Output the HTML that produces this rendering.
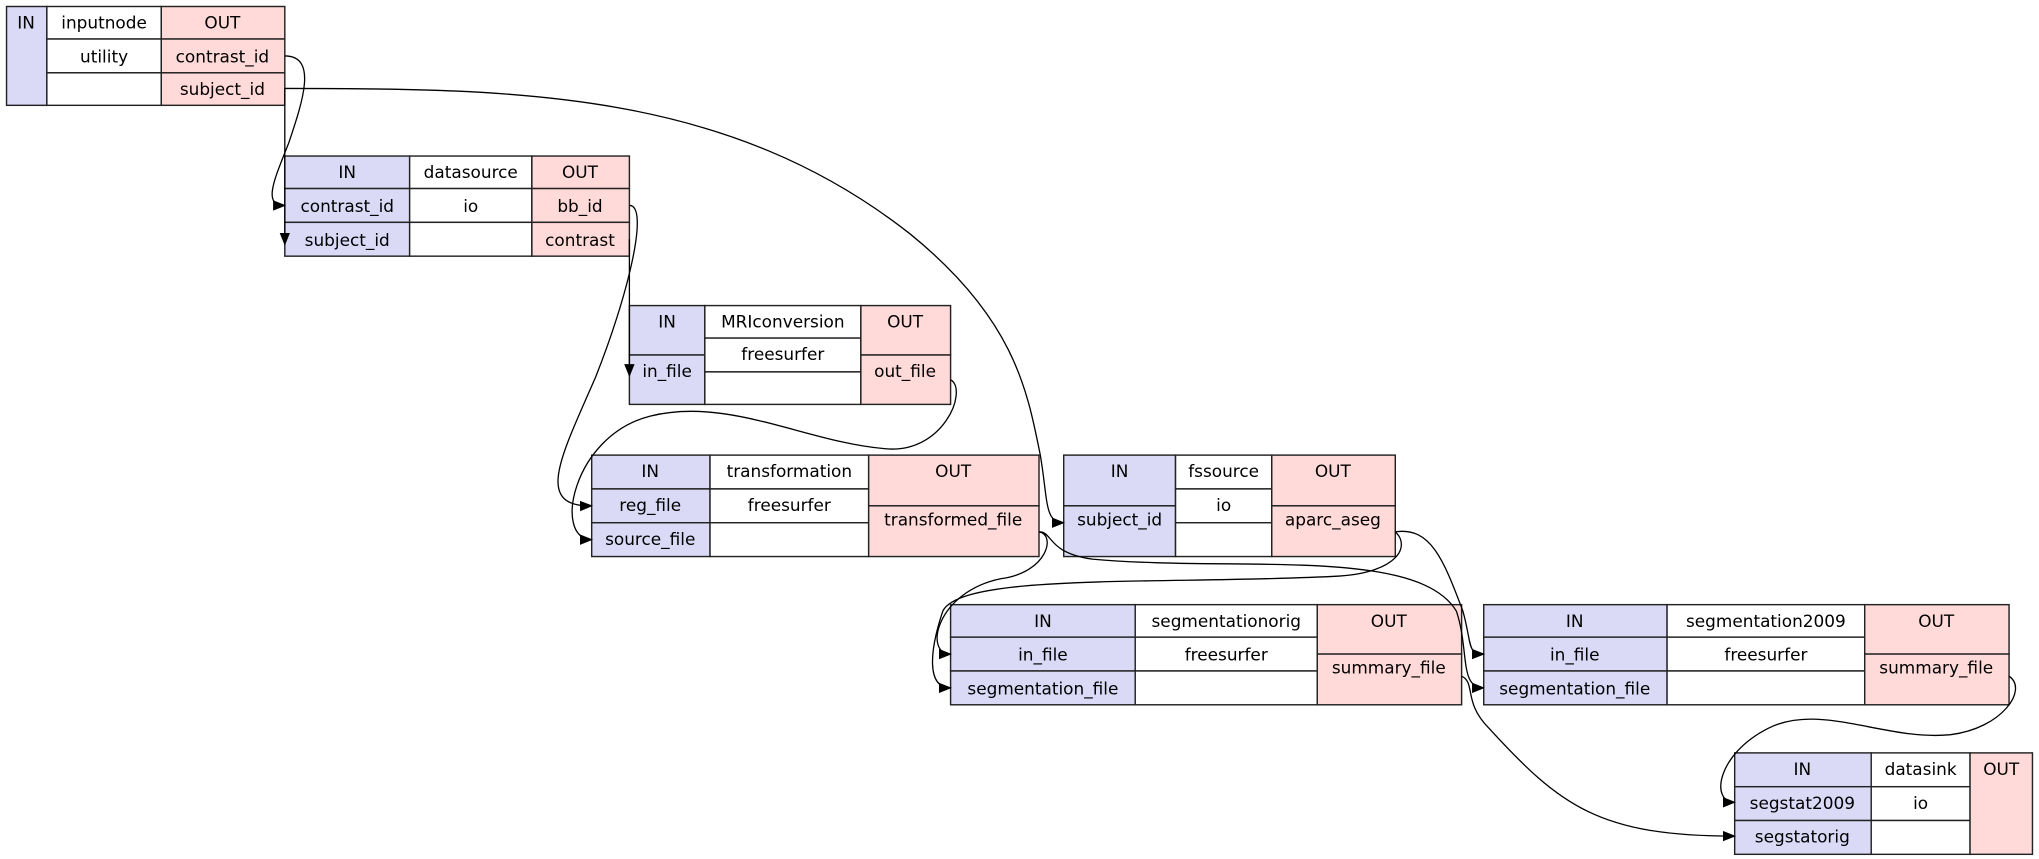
<!DOCTYPE html>
<html><head><meta charset="utf-8"><style>
html,body{margin:0;padding:0;background:#fff;}
svg{display:block;}
text{font-family:"DejaVu Sans","Liberation Sans",sans-serif;font-size:13px;fill:#000;text-anchor:middle;}
.b{fill:#dadaf7;stroke:#222;stroke-width:1.1;}
.p{fill:#ffdad8;stroke:#222;stroke-width:1.1;}
.w{fill:#fff;stroke:#222;stroke-width:1.1;}
.e{fill:none;stroke:#000;stroke-width:1;}
</style></head><body>
<svg width="2039" height="859" viewBox="0 0 1568 660.6" xmlns="http://www.w3.org/2000/svg">
<defs><marker id="a" markerWidth="10" markerHeight="8" refX="9" refY="4" orient="auto" markerUnits="userSpaceOnUse"><path d="M0,0 L10,4 L0,8 z" fill="#000"/></marker></defs>

<!-- inputnode -->
<rect class="b" x="5" y="5" width="31" height="76"/>
<rect class="w" x="36" y="5" width="88" height="25"/><rect class="w" x="36" y="30" width="88" height="26"/><rect class="w" x="36" y="56" width="88" height="25"/>
<rect class="p" x="124" y="5" width="95" height="25"/><rect class="p" x="124" y="30" width="95" height="26"/><rect class="p" x="124" y="56" width="95" height="25"/>
<text x="20" y="22">IN</text><text x="80" y="22">inputnode</text><text x="171" y="22">OUT</text>
<text x="80" y="48">utility</text><text x="171" y="48">contrast_id</text><text x="171" y="73">subject_id</text>

<!-- datasource -->
<rect class="b" x="219" y="120" width="96" height="25"/><rect class="b" x="219" y="145" width="96" height="26"/><rect class="b" x="219" y="171" width="96" height="26"/>
<rect class="w" x="315" y="120" width="94" height="25"/><rect class="w" x="315" y="145" width="94" height="26"/><rect class="w" x="315" y="171" width="94" height="26"/>
<rect class="p" x="409" y="120" width="75" height="25"/><rect class="p" x="409" y="145" width="75" height="26"/><rect class="p" x="409" y="171" width="75" height="26"/>
<text x="267" y="137">IN</text><text x="362" y="137">datasource</text><text x="446" y="137">OUT</text>
<text x="267" y="163">contrast_id</text><text x="362" y="163">io</text><text x="446" y="163">bb_id</text>
<text x="267" y="189">subject_id</text><text x="446" y="189">contrast</text>

<!-- MRIconversion -->
<rect class="b" x="484" y="235" width="58" height="38"/><rect class="b" x="484" y="273" width="58" height="38"/>
<rect class="w" x="542" y="235" width="120" height="25"/><rect class="w" x="542" y="260" width="120" height="26"/><rect class="w" x="542" y="286" width="120" height="25"/>
<rect class="p" x="662" y="235" width="69" height="38"/><rect class="p" x="662" y="273" width="69" height="38"/>
<text x="513" y="252">IN</text><text x="602" y="252">MRIconversion</text><text x="696" y="252">OUT</text>
<text x="513" y="290">in_file</text><text x="602" y="277">freesurfer</text><text x="696" y="290">out_file</text>

<!-- transformation -->
<rect class="b" x="455" y="350" width="91" height="26"/><rect class="b" x="455" y="376" width="91" height="26"/><rect class="b" x="455" y="402" width="91" height="26"/>
<rect class="w" x="546" y="350" width="122" height="26"/><rect class="w" x="546" y="376" width="122" height="26"/><rect class="w" x="546" y="402" width="122" height="26"/>
<rect class="p" x="668" y="350" width="131" height="39"/><rect class="p" x="668" y="389" width="131" height="39"/>
<text x="500" y="367">IN</text><text x="607" y="367">transformation</text><text x="733" y="367">OUT</text>
<text x="500" y="393">reg_file</text><text x="607" y="393">freesurfer</text><text x="733" y="404">transformed_file</text>
<text x="500" y="419">source_file</text>

<!-- fssource -->
<rect class="b" x="818" y="350" width="86" height="39"/><rect class="b" x="818" y="389" width="86" height="39"/>
<rect class="w" x="904" y="350" width="74" height="26"/><rect class="w" x="904" y="376" width="74" height="26"/><rect class="w" x="904" y="402" width="74" height="26"/>
<rect class="p" x="978" y="350" width="95" height="39"/><rect class="p" x="978" y="389" width="95" height="39"/>
<text x="861" y="367">IN</text><text x="941" y="367">fssource</text><text x="1025" y="367">OUT</text>
<text x="861" y="404">subject_id</text><text x="941" y="393">io</text><text x="1025" y="404">aparc_aseg</text>

<!-- segmentationorig -->
<rect class="b" x="731" y="465" width="142" height="25"/><rect class="b" x="731" y="490" width="142" height="26"/><rect class="b" x="731" y="516" width="142" height="26"/>
<rect class="w" x="873" y="465" width="140" height="25"/><rect class="w" x="873" y="490" width="140" height="26"/><rect class="w" x="873" y="516" width="140" height="26"/>
<rect class="p" x="1013" y="465" width="111" height="38"/><rect class="p" x="1013" y="503" width="111" height="39"/>
<text x="802" y="482">IN</text><text x="943" y="482">segmentationorig</text><text x="1068" y="482">OUT</text>
<text x="802" y="508">in_file</text><text x="943" y="508">freesurfer</text><text x="1068" y="518">summary_file</text>
<text x="802" y="534">segmentation_file</text>

<!-- segmentation2009 -->
<rect class="b" x="1141" y="465" width="141" height="25"/><rect class="b" x="1141" y="490" width="141" height="26"/><rect class="b" x="1141" y="516" width="141" height="26"/>
<rect class="w" x="1282" y="465" width="152" height="25"/><rect class="w" x="1282" y="490" width="152" height="26"/><rect class="w" x="1282" y="516" width="152" height="26"/>
<rect class="p" x="1434" y="465" width="111" height="38"/><rect class="p" x="1434" y="503" width="111" height="39"/>
<text x="1211" y="482">IN</text><text x="1358" y="482">segmentation2009</text><text x="1489" y="482">OUT</text>
<text x="1211" y="508">in_file</text><text x="1358" y="508">freesurfer</text><text x="1489" y="518">summary_file</text>
<text x="1211" y="534">segmentation_file</text>

<!-- datasink -->
<rect class="b" x="1334" y="579" width="105" height="26"/><rect class="b" x="1334" y="605" width="105" height="26"/><rect class="b" x="1334" y="631" width="105" height="26"/>
<rect class="w" x="1439" y="579" width="76" height="26"/><rect class="w" x="1439" y="605" width="76" height="26"/><rect class="w" x="1439" y="631" width="76" height="26"/>
<rect class="p" x="1515" y="579" width="48" height="78"/>
<text x="1386" y="596">IN</text><text x="1477" y="596">datasink</text><text x="1539" y="596">OUT</text>
<text x="1386" y="622">segstat2009</text><text x="1477" y="622">io</text>
<text x="1386" y="648">segstatorig</text>

<!-- edges -->
<path class="e" marker-end="url(#a)" d="M219,43 C245,43 232,80 222,110 C210,140 202,158 219,158"/>
<path class="e" marker-end="url(#a)" d="M219,68 L219,188"/>
<path class="e" marker-end="url(#a)" d="M219,68 C400,68 560,70 700,180 C780,245 790,300 800,350 C806,385 803,402 818,402"/>
<path class="e" marker-end="url(#a)" d="M484,158 C500,158 482,230 458,290 C432,350 410,390 455,389"/>
<path class="e" marker-end="url(#a)" d="M484,184 L484,289"/>
<path class="e" marker-end="url(#a)" d="M731,292 C745,300 725,350 680,345 C620,340 560,305 500,320 C440,335 425,415 455,415"/>
<path class="e" marker-end="url(#a)" d="M799,409 C812,411 806,440 770,445 C720,455 710,503 731,503"/>
<path class="e" marker-end="url(#a)" d="M799,409 C810,409 805,425 840,430 C950,440 1090,420 1120,470 C1130,500 1122,529 1141,529"/>
<path class="e" marker-end="url(#a)" d="M1073,409 C1100,405 1110,430 1125,470 C1132,495 1128,503 1141,503"/>
<path class="e" marker-end="url(#a)" d="M1073,409 C1085,420 1075,440 1030,443 C900,450 740,440 725,470 C715,500 712,529 731,529"/>
<path class="e" marker-end="url(#a)" d="M1124,520 C1135,525 1125,540 1145,560 C1200,620 1230,643 1334,643"/>
<path class="e" marker-end="url(#a)" d="M1545,520 C1560,530 1540,560 1500,565 C1450,570 1400,540 1360,560 C1320,580 1315,617 1334,617"/>
</svg>
</body></html>
